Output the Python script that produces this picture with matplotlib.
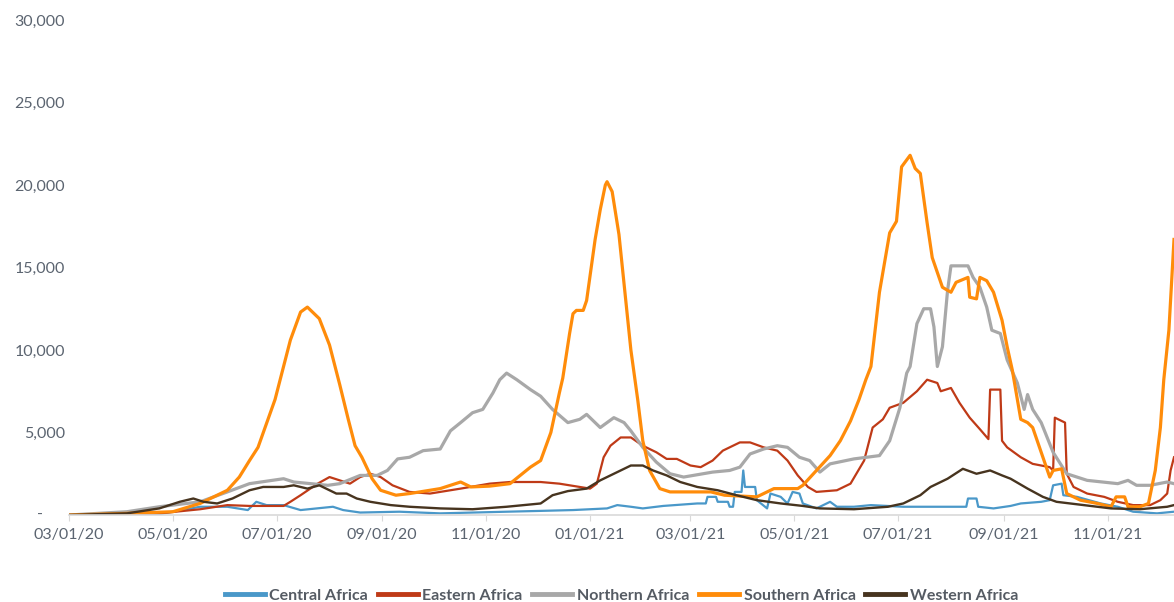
import pandas as pd
import matplotlib
matplotlib.use("Agg")
from matplotlib import pyplot as plt
import matplotlib.dates as mdates
from matplotlib.ticker import FuncFormatter

plt.rcParams['font.family'] = ['Lato', 'DejaVu Sans']

# ---- data (7-day avg new cases) ----
central_dates = ['2020-03-01', '2020-04-23', '2020-05-17', '2020-06-02', '2020-06-14', '2020-06-19',
                 '2020-06-25', '2020-07-05', '2020-07-15', '2020-08-03', '2020-08-09', '2020-08-19',
                 '2020-09-11', '2020-10-05', '2020-11-13', '2020-12-03', '2020-12-22', '2021-01-11',
                 '2021-01-17', '2021-01-25', '2021-02-01', '2021-02-13', '2021-03-05', '2021-03-10',
                 '2021-03-11', '2021-03-16', '2021-03-17', '2021-03-23', '2021-03-24', '2021-03-26',
                 '2021-03-27', '2021-03-31', '2021-04-01', '2021-04-02', '2021-04-08', '2021-04-09',
                 '2021-04-15', '2021-04-17', '2021-04-23', '2021-04-27', '2021-04-30', '2021-05-04',
                 '2021-05-06', '2021-05-14', '2021-05-16', '2021-05-22', '2021-05-26', '2021-06-05',
                 '2021-06-15', '2021-07-04', '2021-08-10', '2021-08-11', '2021-08-16', '2021-08-17',
                 '2021-08-26', '2021-09-05', '2021-09-11', '2021-09-23', '2021-09-28', '2021-09-30',
                 '2021-10-05', '2021-10-06', '2021-10-14', '2021-10-28', '2021-11-07', '2021-11-16',
                 '2021-11-30', '2021-12-10']
central_vals = [0, 50, 500, 500, 300, 800,
                600, 600, 300, 500, 300, 150,
                200, 100, 200, 250, 300, 400,
                600, 500, 400, 550, 700, 700,
                1100, 1100, 800, 800, 500, 500,
                1400, 1400, 2700, 1700, 1700, 900,
                400, 1300, 1100, 700, 1400, 1300,
                700, 400, 500, 800, 500, 500,
                600, 500, 500, 1000, 1000, 500,
                400, 550, 700, 800, 900, 1800,
                1900, 1200, 1100, 700, 500, 200,
                100, 200]

eastern_dates = ['2020-03-01', '2020-04-23', '2020-05-17', '2020-06-02', '2020-06-15', '2020-07-05',
                 '2020-07-09', '2020-07-15', '2020-07-25', '2020-08-01', '2020-08-07', '2020-08-13',
                 '2020-08-19', '2020-08-25', '2020-08-31', '2020-09-07', '2020-09-17', '2020-09-29',
                 '2020-10-05', '2020-10-17', '2020-11-03', '2020-11-15', '2020-12-03', '2020-12-14',
                 '2020-12-26', '2021-01-01', '2021-01-05', '2021-01-09', '2021-01-13', '2021-01-19',
                 '2021-01-25', '2021-02-01', '2021-02-09', '2021-02-15', '2021-02-21', '2021-03-01',
                 '2021-03-07', '2021-03-14', '2021-03-20', '2021-03-30', '2021-04-05', '2021-04-13',
                 '2021-04-21', '2021-04-27', '2021-05-03', '2021-05-09', '2021-05-14', '2021-05-26',
                 '2021-06-03', '2021-06-11', '2021-06-16', '2021-06-22', '2021-06-26', '2021-07-04',
                 '2021-07-12', '2021-07-18', '2021-07-24', '2021-07-26', '2021-08-01', '2021-08-06',
                 '2021-08-12', '2021-08-18', '2021-08-23', '2021-08-24', '2021-08-30', '2021-08-31',
                 '2021-09-03', '2021-09-11', '2021-09-18', '2021-09-28', '2021-09-30', '2021-10-01',
                 '2021-10-07', '2021-10-08', '2021-10-12', '2021-10-20', '2021-10-30', '2021-11-07',
                 '2021-11-16', '2021-11-26', '2021-12-02', '2021-12-06', '2021-12-08', '2021-12-10']
eastern_vals = [0, 100, 350, 600, 550, 550,
                800, 1200, 1900, 2300, 2100, 1900,
                2300, 2500, 2300, 1800, 1400, 1300,
                1400, 1600, 1900, 2000, 2000, 1900,
                1700, 1600, 1900, 3500, 4200, 4700,
                4700, 4200, 3800, 3400, 3400, 3000,
                2900, 3300, 3900, 4400, 4400, 4100,
                3900, 3300, 2400, 1700, 1400, 1500,
                1900, 3300, 5300, 5800, 6500, 6800,
                7500, 8200, 8000, 7500, 7700, 6800,
                5900, 5200, 4600, 7600, 7600, 4500,
                4100, 3500, 3100, 2900, 2700, 5900,
                5600, 2500, 1700, 1300, 1100, 800,
                600, 600, 900, 1300, 2700, 3500]

northern_dates = ['2020-03-01', '2020-04-04', '2020-04-23', '2020-05-17', '2020-06-02', '2020-06-15',
                  '2020-07-05', '2020-07-11', '2020-07-31', '2020-08-07', '2020-08-19', '2020-08-29',
                  '2020-09-04', '2020-09-10', '2020-09-17', '2020-09-25', '2020-10-05', '2020-10-11',
                  '2020-10-17', '2020-10-24', '2020-10-30', '2020-11-05', '2020-11-09', '2020-11-13',
                  '2020-11-19', '2020-11-27', '2020-12-03', '2020-12-10', '2020-12-19', '2020-12-26',
                  '2020-12-30', '2021-01-07', '2021-01-15', '2021-01-21', '2021-01-25', '2021-02-01',
                  '2021-02-09', '2021-02-17', '2021-02-25', '2021-03-14', '2021-03-24', '2021-03-30',
                  '2021-04-05', '2021-04-13', '2021-04-21', '2021-04-27', '2021-05-04', '2021-05-10',
                  '2021-05-16', '2021-05-22', '2021-06-05', '2021-06-20', '2021-06-26', '2021-07-02',
                  '2021-07-06', '2021-07-08', '2021-07-12', '2021-07-16', '2021-07-20', '2021-07-22',
                  '2021-07-24', '2021-07-27', '2021-07-30', '2021-08-01', '2021-08-06', '2021-08-11',
                  '2021-08-14', '2021-08-18', '2021-08-22', '2021-08-25', '2021-08-30', '2021-09-03',
                  '2021-09-09', '2021-09-13', '2021-09-15', '2021-09-18', '2021-09-23', '2021-09-30',
                  '2021-10-08', '2021-10-20', '2021-11-07', '2021-11-13', '2021-11-18', '2021-11-26',
                  '2021-12-06', '2021-12-10']
northern_vals = [0, 200, 500, 800, 1400, 1900,
                 2200, 2000, 1800, 1900, 2400, 2400,
                 2700, 3400, 3500, 3900, 4000, 5100,
                 5600, 6200, 6400, 7400, 8200, 8600,
                 8200, 7600, 7200, 6400, 5600, 5800,
                 6100, 5300, 5900, 5600, 5100, 4100,
                 3200, 2500, 2300, 2600, 2700, 2900,
                 3700, 4000, 4200, 4100, 3500, 3300,
                 2600, 3100, 3400, 3600, 4500, 6500,
                 8600, 9000, 11600, 12500, 12500, 11400,
                 9000, 10200, 13600, 15100, 15100, 15100,
                 14400, 13800, 12600, 11200, 11000, 9400,
                 8000, 6400, 7300, 6400, 5600, 3800,
                 2500, 2100, 1900, 2100, 1800, 1800,
                 2000, 1900]

southern_dates = ['2020-03-01', '2020-04-04', '2020-05-01', '2020-05-17', '2020-06-02', '2020-06-09',
                  '2020-06-15', '2020-06-20', '2020-06-30', '2020-07-09', '2020-07-15', '2020-07-19',
                  '2020-07-26', '2020-08-01', '2020-08-07', '2020-08-12', '2020-08-16', '2020-08-20',
                  '2020-08-26', '2020-08-31', '2020-09-09', '2020-09-17', '2020-10-05', '2020-10-17',
                  '2020-10-23', '2020-11-03', '2020-11-15', '2020-11-27', '2020-12-03', '2020-12-09',
                  '2020-12-14', '2020-12-16', '2020-12-20', '2020-12-22', '2020-12-24', '2020-12-28',
                  '2020-12-30', '2021-01-04', '2021-01-07', '2021-01-10', '2021-01-11', '2021-01-14',
                  '2021-01-18', '2021-01-22', '2021-01-25', '2021-01-29', '2021-02-01', '2021-02-05',
                  '2021-02-11', '2021-02-17', '2021-03-01', '2021-03-13', '2021-03-21', '2021-03-30',
                  '2021-04-09', '2021-04-19', '2021-05-03', '2021-05-06', '2021-05-14', '2021-05-22',
                  '2021-05-28', '2021-06-03', '2021-06-08', '2021-06-12', '2021-06-15', '2021-06-20',
                  '2021-06-26', '2021-06-30', '2021-07-03', '2021-07-08', '2021-07-11', '2021-07-14',
                  '2021-07-18', '2021-07-21', '2021-07-27', '2021-08-01', '2021-08-04', '2021-08-11',
                  '2021-08-12', '2021-08-16', '2021-08-18', '2021-08-22', '2021-08-26', '2021-08-31',
                  '2021-09-03', '2021-09-06', '2021-09-11', '2021-09-15', '2021-09-18', '2021-09-24',
                  '2021-09-28', '2021-09-30', '2021-10-05', '2021-10-08', '2021-10-16', '2021-10-26',
                  '2021-11-03', '2021-11-06', '2021-11-11', '2021-11-13', '2021-11-20', '2021-11-25',
                  '2021-11-29', '2021-12-02', '2021-12-04', '2021-12-07', '2021-12-10']
southern_vals = [0, 100, 200, 700, 1500, 2300,
                 3300, 4100, 7000, 10600, 12300, 12600,
                 11900, 10300, 7900, 5800, 4200, 3500,
                 2200, 1500, 1200, 1300, 1600, 2000,
                 1700, 1750, 1900, 2900, 3300, 5000,
                 7400, 8300, 11000, 12200, 12400, 12400,
                 13000, 16700, 18500, 20000, 20200, 19600,
                 17000, 13000, 10000, 7000, 4500, 2700,
                 1600, 1400, 1400, 1400, 1200, 1150,
                 1100, 1600, 1600, 1800, 2700, 3600,
                 4500, 5700, 7000, 8200, 9000, 13500,
                 17100, 17800, 21100, 21800, 21000, 20700,
                 17700, 15600, 13800, 13500, 14100, 14400,
                 13200, 13100, 14400, 14200, 13500, 11800,
                 10200, 8800, 5800, 5600, 5300, 3500,
                 2300, 2700, 2800, 1300, 900, 700,
                 500, 1100, 1100, 500, 500, 700,
                 2700, 5300, 8200, 11200, 16700]

western_dates = ['2020-03-01', '2020-04-04', '2020-04-23', '2020-05-05', '2020-05-13', '2020-05-19',
                 '2020-05-27', '2020-06-05', '2020-06-15', '2020-06-23', '2020-07-05', '2020-07-11',
                 '2020-07-19', '2020-07-26', '2020-08-01', '2020-08-05', '2020-08-11', '2020-08-17',
                 '2020-08-25', '2020-09-06', '2020-09-17', '2020-10-05', '2020-10-24', '2020-11-13',
                 '2020-12-03', '2020-12-10', '2020-12-19', '2020-12-30', '2021-01-07', '2021-01-15',
                 '2021-01-25', '2021-02-01', '2021-02-07', '2021-02-15', '2021-02-23', '2021-03-05',
                 '2021-03-17', '2021-03-28', '2021-04-09', '2021-04-23', '2021-05-06', '2021-05-16',
                 '2021-06-05', '2021-06-25', '2021-07-04', '2021-07-14', '2021-07-20', '2021-07-30',
                 '2021-08-08', '2021-08-16', '2021-08-24', '2021-08-31', '2021-09-05', '2021-09-15',
                 '2021-09-24', '2021-10-02', '2021-10-18', '2021-11-03', '2021-11-20', '2021-12-06',
                 '2021-12-10']
western_vals = [0, 100, 400, 800, 1000, 800,
                700, 1000, 1500, 1700, 1700, 1800,
                1600, 1800, 1500, 1300, 1300, 1000,
                800, 600, 500, 400, 350, 500,
                700, 1200, 1450, 1600, 2100, 2500,
                3000, 3000, 2700, 2400, 2000, 1700,
                1500, 1200, 900, 700, 550, 400,
                350, 500, 700, 1200, 1700, 2200,
                2800, 2500, 2700, 2400, 2200, 1600,
                1100, 800, 600, 400, 350, 500,
                600]

tick_dates = ['2020-03-01', '2020-05-01', '2020-07-01', '2020-09-01', '2020-11-01', '2021-01-01',
              '2021-03-01', '2021-05-01', '2021-07-01', '2021-09-01', '2021-11-01']

series = [
    ('Central Africa', central_dates, central_vals, '#4a98c9', 1.6),
    ('Eastern Africa', eastern_dates, eastern_vals, '#bf3a17', 1.6),
    ('Northern Africa', northern_dates, northern_vals, '#a8a8a8', 2.3),
    ('Southern Africa', southern_dates, southern_vals, '#ff8c0a', 2.3),
    ('Western Africa', western_dates, western_vals, '#47341f', 1.7),
]

label_color = '#5b6470'

fig = plt.figure(figsize=(11.74, 6.02), dpi=100)
ax = fig.add_axes([0.0588, 0.1445, 0.9412, 0.8223])

for name, d, v, c, lw in series:
    ax.plot(pd.to_datetime(d), v, color=c, lw=lw, label=name, solid_joinstyle='round')

ax.set_xlim(pd.Timestamp('2020-03-01'), pd.Timestamp('2021-12-10'))
ax.set_ylim(0, 30000)
ax.set_yticks(range(0, 30001, 5000))


def fmt_y(v, pos):
    if v == 0:
        return ''
    return f'{int(v):,}'


ax.yaxis.set_major_formatter(FuncFormatter(fmt_y))
# accounting style dash for zero, sits left of the other labels
ax.text(-0.026, 0, '-', transform=ax.get_yaxis_transform(), ha='center', va='center',
        fontsize=11.5, color=label_color)

ax.set_xticks(pd.to_datetime(tick_dates))
ax.xaxis.set_major_formatter(mdates.DateFormatter('%m/%d/%y'))

for s in ['top', 'right', 'left']:
    ax.spines[s].set_visible(False)
ax.spines['bottom'].set_color('#d9d9d9')
ax.spines['bottom'].set_linewidth(1.2)
ax.tick_params(axis='y', length=0, pad=3, labelsize=11.5, labelcolor=label_color)
ax.tick_params(axis='x', length=4, color='#d9d9d9', pad=5, labelsize=11.5, labelcolor=label_color)

leg = ax.legend(loc='upper center', bbox_to_anchor=(0.5, -0.12), ncol=5, frameon=False,
                handlelength=2.5, handletextpad=0.3, columnspacing=0.6,
                prop={'size': 11.5, 'weight': 'bold'})
for t in leg.get_texts():
    t.set_color('#555b63')
for h in leg.get_lines():
    h.set_linewidth(3.5)

fig.savefig('out.png', dpi=100)
